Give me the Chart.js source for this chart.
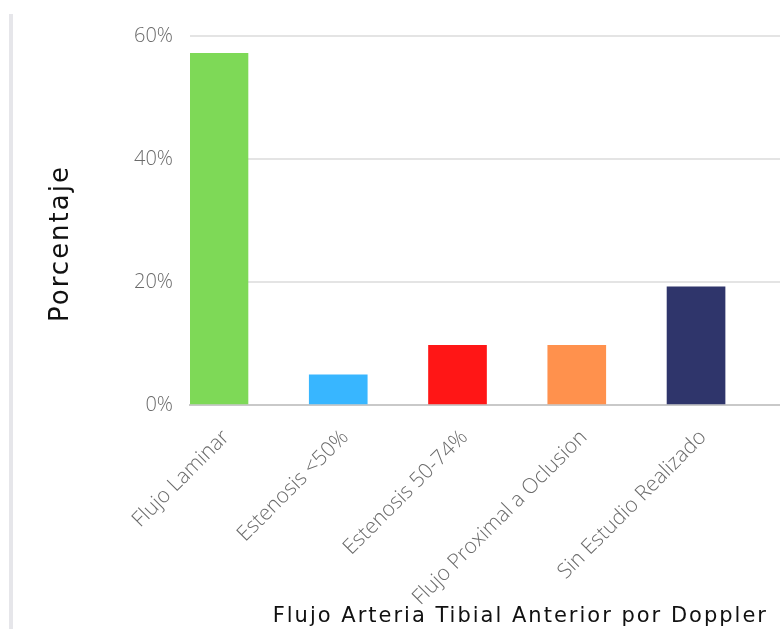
<!DOCTYPE html>
<html>
<head>
    <title>Flujo Arteria Tibial Anterior</title>
    <script src="https://cdn.jsdelivr.net/npm/chart.js"></script>
    <style>
        body { margin: 0; background: white; overflow: hidden; }
        .frame { position: relative; width: 780px; height: 629px; }
        .side-bar { position: absolute; left: 9px; top: 14px; bottom: 0; width: 4px; background: #e6e6ea; }
        .chart-box { position: absolute; left: 0; top: 0; width: 780px; height: 629px; }
    </style>
</head>
<body>
    <div class="frame">
        <div class="side-bar"></div>
        <div class="chart-box">
            <canvas id="dopplerChart"></canvas>
        </div>
    </div>

    <script>
        // data
        const categories = ['Flujo Laminar', 'Estenosis <50%', 'Estenosis 50-74%', 'Flujo Proximal a Oclusion', 'Sin Estudio Realizado'];
        const percentages = [57.2, 4.9, 9.7, 9.7, 19.2];
        const barColors = ['#7ed957', '#38b6ff', '#ff1616', '#ff914d', '#2f356b'];
        const yTicks = [0, 20, 40, 60];

        const xTitle = 'Flujo Arteria Tibial Anterior por Doppler';
        const yTitle = 'Porcentaje';
        const titleSpacing = { x: '2px', y: '2px' };
        const titleShift = { x: [-12, 0], y: [0, 23] };

        // the axis titles in the original are letter-spaced and a bit off-centre
        const spacedTitles = {
            id: 'spacedTitles',
            beforeDraw(chart) {
                Object.values(chart.scales).forEach(scale => {
                    if (scale._spaced) return;
                    const drawTitle = scale.drawTitle;
                    scale.drawTitle = function () {
                        const shift = titleShift[this.id] || [0, 0];
                        this.ctx.save();
                        this.ctx.letterSpacing = titleSpacing[this.id] || '0px';
                        this.ctx.translate(shift[0], shift[1]);
                        drawTitle.call(this);
                        this.ctx.restore();
                    };
                    scale._spaced = true;
                });
            }
        };

        new Chart(document.getElementById('dopplerChart'), {
            type: 'bar',
            data: {
                datasets: [{
                    data: percentages.map((v, i) => ({ x: i, y: v })),
                    backgroundColor: barColors,
                    barThickness: 58
                }]
            },
            options: {
                responsive: true,
                maintainAspectRatio: false,
                animation: false,
                layout: { padding: { top: 36, right: 0, bottom: 0, left: 0 } },
                plugins: {
                    legend: { display: false },
                    tooltip: { enabled: false }
                },
                scales: {
                    x: {
                        type: 'linear',
                        offset: false,
                        min: -0.243,
                        max: 4.704,
                        afterFit(scale) {
                            scale.height = 224;
                            scale.paddingLeft = 0;
                            scale.paddingRight = 0;
                        },
                        grid: { display: false, offset: false },
                        border: { color: '#c9c9c9', width: 2 },
                        ticks: {
                            stepSize: 1,
                            includeBounds: false,
                            autoSkip: false,
                            minRotation: 45,
                            maxRotation: 45,
                            padding: 12,
                            labelOffset: 7,
                            color: '#6b6b6b',
                            font: { family: 'Open Sans', size: 21, weight: 300 },
                            callback: v => Number.isInteger(v) ? categories[v] : ''
                        },
                        title: {
                            display: true,
                            text: xTitle,
                            align: 'end',
                            color: '#111',
                            font: { family: 'DejaVu Sans', size: 21 },
                            padding: { top: 0, bottom: 0 }
                        }
                    },
                    y: {
                        min: 0,
                        max: 60,
                        afterFit(scale) { scale.width = 190; },
                        afterBuildTicks(scale) { scale.ticks = yTicks.map(v => ({ value: v })); },
                        grid: { color: '#e4e4e4', lineWidth: 2, drawTicks: false },
                        border: { display: false },
                        ticks: {
                            padding: 17,
                            color: '#6b6b6b',
                            font: { family: 'Open Sans', size: 20, weight: 300 },
                            callback: v => v + '%'
                        },
                        title: {
                            display: true,
                            text: yTitle,
                            color: '#111',
                            font: { family: 'DejaVu Sans', size: 26 },
                            padding: { top: 46, bottom: 0 }
                        }
                    }
                }
            },
            plugins: [spacedTitles]
        });
    </script>
</body>
</html>
